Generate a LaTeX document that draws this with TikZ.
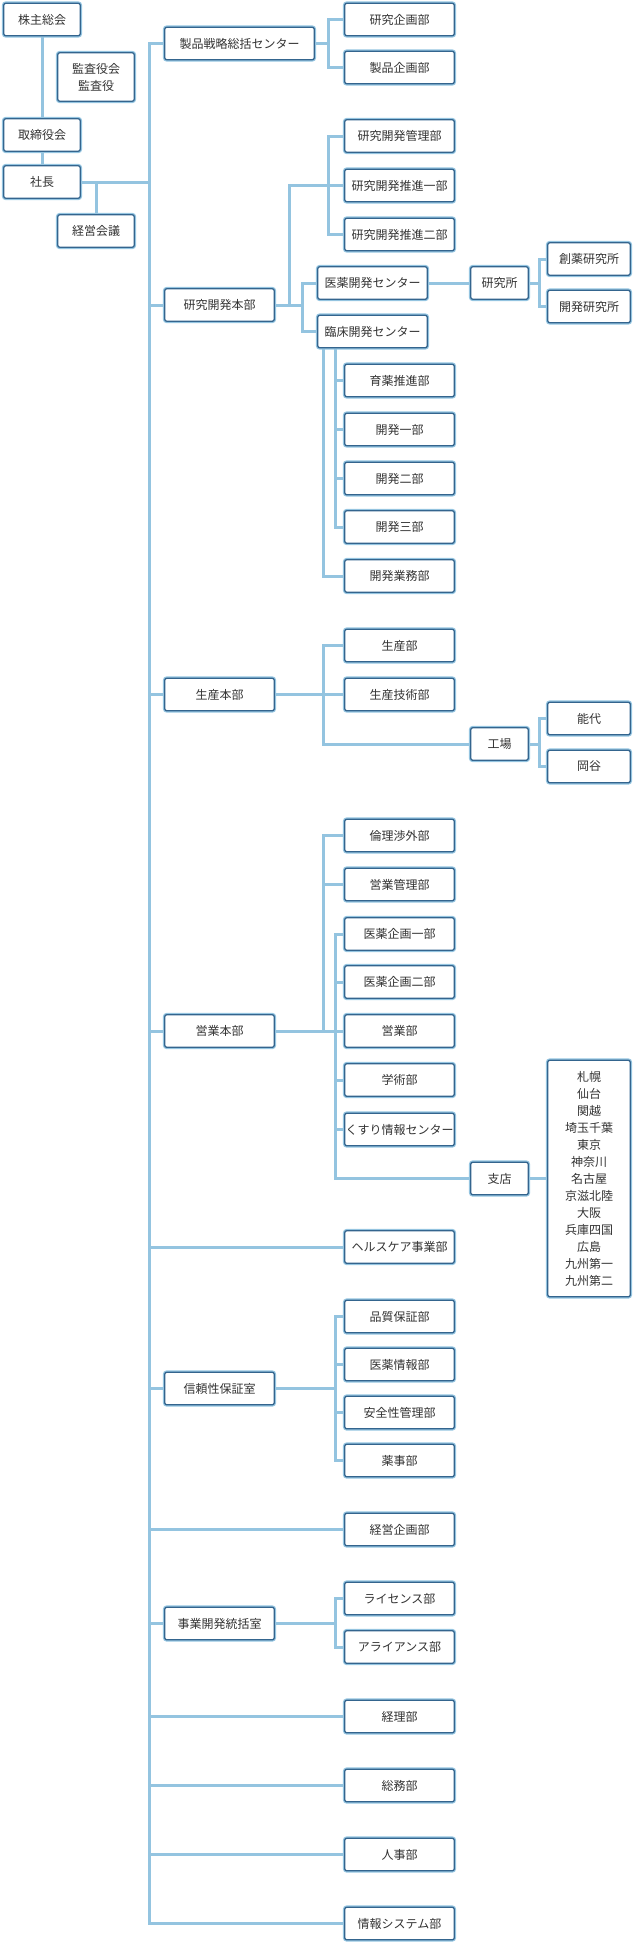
\documentclass[tikz,border=0pt]{standalone}
\usepackage{fontspec}
\newfontfamily\jp{Noto Sans CJK JP}
\usetikzlibrary{backgrounds}
\definecolor{lnblue}{RGB}{148,196,224}
\definecolor{bxblue}{RGB}{52,101,142}
\definecolor{txt}{RGB}{51,51,51}
\tikzset{
  box/.style  = {rectangle, draw=bxblue, line width=1.3pt, fill=white, rounded corners=2pt,
                 minimum height=32.5pt, inner sep=0, text=txt, align=center,
                 font=\jp\fontsize{12}{17}\selectfont,
                 preaction={draw=lnblue, line width=3.6pt}},
  lbox/.style = {box, minimum width=76.5pt},
  mbox/.style = {box, minimum width=109.5pt},
  tbox/.style = {box, minimum width=57.5pt},
  rbox/.style = {box, minimum width=82.5pt},
  conn/.style = {draw=lnblue, line width=3pt, line cap=rect, line join=miter}
}

\begin{document}
\begin{tikzpicture}[x=1pt, y=-1pt]
  \useasboundingbox (0,0) rectangle (634,1943);

  % top management
  \node[lbox] (kabu)   at (42, 19.5) {株主総会};
  \node[lbox, minimum height=48.5pt] (kansa) at (96, 77) {監査役会\\監査役};
  \node[lbox] (tori)   at (42, 135) {取締役会};
  \node[lbox] (shacho) at (42, 182) {社長};
  \node[lbox] (keiei)  at (96, 231) {経営会議};

  % second level
  \node[box, minimum width=149.5pt] (seisen) at (239.5, 43.5) {製品戦略総括センター};
  \node[mbox] (kenhon)  at (219.5, 305)    {研究開発本部};
  \node[mbox] (seihon)  at (219.5, 694.5)  {生産本部};
  \node[mbox] (eihon)   at (219.5, 1031)   {営業本部};
  \node[mbox] (shinrai) at (219.5, 1388.5) {信頼性保証室};
  \node[mbox] (jigyo)   at (219.5, 1623.5) {事業開発統括室};

  % departments
  \node[mbox] (kenkikaku) at (399.5, 19.5)  {研究企画部};
  \node[mbox] (seikikaku) at (399.5, 67.5)  {製品企画部};
  \node[mbox] (kkanri)    at (399.5, 136)   {研究開発管理部};
  \node[mbox] (suishin1)  at (399.5, 185.5) {研究開発推進一部};
  \node[mbox] (suishin2)  at (399.5, 234.5) {研究開発推進二部};
  \node[mbox] (iyaku)     at (372.5, 283)   {医薬開発センター};
  \node[mbox] (rinsho)    at (372.5, 331.5) {臨床開発センター};
  \node[mbox] (ikuyaku)   at (399.5, 380.5) {育薬推進部};
  \node[mbox] (kai1)      at (399.5, 429.5) {開発一部};
  \node[mbox] (kai2)      at (399.5, 478.5) {開発二部};
  \node[mbox] (kai3)      at (399.5, 527)   {開発三部};
  \node[mbox] (gyomu)     at (399.5, 576)   {開発業務部};
  \node[mbox] (seisan)    at (399.5, 645.5) {生産部};
  \node[mbox] (gijutsu)   at (399.5, 694.5) {生産技術部};
  \node[mbox] (rinri)     at (399.5, 835.5) {倫理渉外部};
  \node[mbox] (eikanri)   at (399.5, 884.5) {営業管理部};
  \node[mbox] (iki1)      at (399.5, 934)   {医薬企画一部};
  \node[mbox] (iki2)      at (399.5, 982)   {医薬企画二部};
  \node[mbox] (eigyo)     at (399.5, 1031)  {営業部};
  \node[mbox] (gakujutsu) at (399.5, 1080)  {学術部};
  \node[mbox] (kusuri)    at (399.5, 1129.5){くすり情報センター};
  \node[mbox] (health)    at (399.5, 1247)  {ヘルスケア事業部};
  \node[mbox] (hinshitsu) at (399.5, 1316.5){品質保証部};
  \node[mbox] (ijoho)     at (399.5, 1364.5){医薬情報部};
  \node[mbox] (anzen)     at (399.5, 1412.5){安全性管理部};
  \node[mbox] (yakuji)    at (399.5, 1460.5){薬事部};
  \node[mbox] (keikaku)   at (399.5, 1529.5){経営企画部};
  \node[mbox] (license)   at (399.5, 1598.5){ライセンス部};
  \node[mbox] (alliance)  at (399.5, 1647)  {アライアンス部};
  \node[mbox] (keiri)     at (399.5, 1716.5){経理部};
  \node[mbox] (somu)      at (399.5, 1785.5){総務部};
  \node[mbox] (jinji)     at (399.5, 1854.5){人事部};
  \node[mbox] (joho)      at (399.5, 1923.5){情報システム部};

  % labs, plants, branches
  \node[tbox] (kenkyusho) at (499.5, 283)    {研究所};
  \node[tbox] (kojo)      at (499.5, 744)    {工場};
  \node[tbox] (shiten)    at (499.5, 1178.5) {支店};
  \node[rbox] (soyaku)    at (589, 259)      {創薬研究所};
  \node[rbox] (kaiken)    at (589, 306.5)    {開発研究所};
  \node[rbox] (noshiro)   at (589, 718.5)    {能代};
  \node[rbox] (okaya)     at (589, 766.5)    {岡谷};
  \node[rbox, minimum height=236.5pt] (shitenlist) at (589, 1178.5)
    {札幌\\仙台\\関越\\埼玉千葉\\東京\\神奈川\\名古屋\\京滋北陸\\大阪\\兵庫四国\\広島\\九州第一\\九州第二};

  % bracket columns
  \coordinate (tx) at (149, 0);
  \coordinate (jx) at (289.5, 0);
  \coordinate (cx) at (302.5, 0);
  \coordinate (ax) at (323.5, 0);
  \coordinate (bx) at (335, 0);
  \coordinate (kx) at (328, 0);
  \coordinate (rx) at (539, 0);

  \begin{scope}[on background layer]
    % top
    \draw[conn] (kabu) -- (tori);
    \draw[conn] (tori) -- (shacho);
    \draw[conn] (shacho.east) -- (shacho.east -| tx);
    \draw[conn] (keiei.north) -- (keiei.north |- shacho.east);
    % trunk
    \draw[conn] (seisen.west -| tx) -- (joho.west -| tx);
    \foreach \n in {seisen,kenhon,seihon,eihon,health,shinrai,keikaku,jigyo,keiri,somu,jinji,joho}
      \draw[conn] (\n.west -| tx) -- (\n.west);
    % product strategy
    \draw[conn] (seisen.east) -- (seisen.east -| kx);
    \draw[conn] (kenkikaku.west -| kx) -- (seikikaku.west -| kx);
    \foreach \n in {kenkikaku,seikikaku}
      \draw[conn] (\n.west -| kx) -- (\n.west);
    % R&D
    \draw[conn] (kenhon.east) -- (kenhon.east -| cx);
    \draw[conn] (kenhon.east -| jx) -- (suishin1.west -| jx) -- (suishin1.west -| kx);
    \draw[conn] (kkanri.west -| kx) -- (suishin2.west -| kx);
    \foreach \n in {kkanri,suishin1,suishin2}
      \draw[conn] (\n.west -| kx) -- (\n.west);
    \draw[conn] (iyaku.west -| cx) -- (rinsho.west -| cx);
    \foreach \n in {iyaku,rinsho}
      \draw[conn] (\n.west -| cx) -- (\n.west);
    \draw[conn] (iyaku.east) -- (kenkyusho.west);
    \draw[conn] (kenkyusho.east) -- (kenkyusho.east -| rx);
    \draw[conn] (soyaku.west -| rx) -- (kaiken.west -| rx);
    \foreach \n in {soyaku,kaiken}
      \draw[conn] (\n.west -| rx) -- (\n.west);
    \draw[conn] (rinsho.south -| ax) -- (gyomu.west -| ax) -- (gyomu.west);
    \draw[conn] (rinsho.south -| bx) -- (kai3.west -| bx);
    \foreach \n in {ikuyaku,kai1,kai2,kai3}
      \draw[conn] (\n.west -| bx) -- (\n.west);
    % production
    \draw[conn] (seihon.east) -- (gijutsu.west);
    \draw[conn] (seisan.west) -- (seisan.west -| ax) -- (kojo.west -| ax) -- (kojo.west);
    \draw[conn] (kojo.east) -- (kojo.east -| rx);
    \draw[conn] (noshiro.west -| rx) -- (okaya.west -| rx);
    \foreach \n in {noshiro,okaya}
      \draw[conn] (\n.west -| rx) -- (\n.west);
    % sales
    \draw[conn] (eihon.east) -- (eigyo.west);
    \draw[conn] (rinri.west -| ax) -- (eigyo.west -| ax);
    \foreach \n in {rinri,eikanri}
      \draw[conn] (\n.west -| ax) -- (\n.west);
    \draw[conn] (iki1.west -| bx) -- (shiten.west -| bx) -- (shiten.west);
    \foreach \n in {iki1,iki2,gakujutsu,kusuri}
      \draw[conn] (\n.west -| bx) -- (\n.west);
    \draw[conn] (shiten.east) -- (shiten.east -| shitenlist.west);
    % quality assurance
    \draw[conn] (shinrai.east) -- (shinrai.east -| bx);
    \draw[conn] (hinshitsu.west -| bx) -- (yakuji.west -| bx);
    \foreach \n in {hinshitsu,ijoho,anzen,yakuji}
      \draw[conn] (\n.west -| bx) -- (\n.west);
    % business development
    \draw[conn] (jigyo.east) -- (jigyo.east -| bx);
    \draw[conn] (license.west -| bx) -- (alliance.west -| bx);
    \foreach \n in {license,alliance}
      \draw[conn] (\n.west -| bx) -- (\n.west);
  \end{scope}
\end{tikzpicture}
\end{document}
